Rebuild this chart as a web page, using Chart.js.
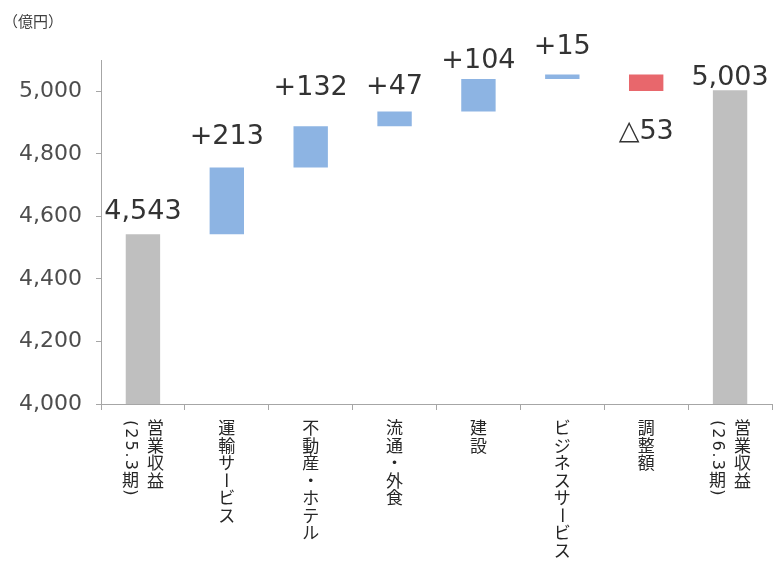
<!DOCTYPE html>
<html>
<head>
<meta charset="utf-8">
<script src="https://cdn.jsdelivr.net/npm/chart.js@4/dist/chart.umd.min.js"></script>
<style>
  html, body { margin: 0; padding: 0; background: #fff; }
  #wrap { position: relative; width: 774px; height: 562px; }
  #unit { position: absolute; left: 3px; top: 10px; font: 15px "Noto Sans CJK JP", sans-serif; color: #404040; }
</style>
</head>
<body>
<div id="wrap">
  <div id="unit">（億円）</div>
  <canvas id="waterfall" width="774" height="562"></canvas>
</div>
<script>
// 営業収益の増減（億円）
var categories = [
    ["営業収益", "(25.3期)"],
    ["運輸サービス"],
    ["不動産・ホテル"],
    ["流通・外食"],
    ["建設"],
    ["ビジネスサービス"],
    ["調整額"],
    ["営業収益", "(26.3期)"]
];
var startTotal = 4543;
var changes = [213, 132, 47, 104, 15, -53];
var endTotal = 5003;
var yTicks = [4000, 4200, 4400, 4600, 4800, 5000];

// label distance from the bar edge, px
var labelGap = [22, 31, 38, 25, 18, 27, 41, 12];

var colors = { total: "#bfbfbf", up: "#8db4e3", down: "#e8676c" };
var numFont = '"DejaVu Sans", sans-serif';
var jpFont = '"Noto Sans CJK JP", sans-serif';

var bars = [[4000, startTotal]];
var barColors = [colors.total];
var labels = [startTotal.toLocaleString("en-US")];
var run = startTotal;
changes.forEach(function (c) {
    bars.push([run, run + c]);
    barColors.push(c >= 0 ? colors.up : colors.down);
    labels.push(c >= 0 ? "+" + c : "△" + Math.abs(c));
    run += c;
});
bars.push([4000, endTotal]);
barColors.push(colors.total);
labels.push(endTotal.toLocaleString("en-US"));

var valueLabels = {
    id: "valueLabels",
    afterDatasetsDraw: function (chart) {
        var ctx = chart.ctx;
        var meta = chart.getDatasetMeta(0);
        ctx.save();
        ctx.font = "27px " + numFont;
        ctx.fillStyle = "#333333";
        ctx.textAlign = "center";
        ctx.textBaseline = "middle";
        meta.data.forEach(function (bar, i) {
            var top = Math.min(bar.y, bar.base);
            var bottom = Math.max(bar.y, bar.base);
            var down = bars[i][1] < bars[i][0];
            var y = down ? bottom + labelGap[i] : top - labelGap[i];
            ctx.fillText(labels[i], bar.x, y);
        });
        ctx.restore();
    }
};

// vertical (tategaki) category labels, columns right to left
var latin = "()0123456789.";
var verticalLabels = {
    id: "verticalLabels",
    afterDraw: function (chart) {
        var ctx = chart.ctx;
        var xs = chart.scales.x;
        var step = 17.5;
        ctx.save();
        ctx.fillStyle = "#262626";
        ctx.textAlign = "center";
        ctx.textBaseline = "middle";
        categories.forEach(function (cols, i) {
            var cx = xs.getPixelForValue(i);
            var n = cols.length;
            cols.forEach(function (col, j) {
                var x = cx + ((n - 1) / 2 - j) * 25;
                var cursor = xs.top + 15;
                Array.from(col).forEach(function (ch) {
                    var isLatin = latin.indexOf(ch) >= 0;
                    ctx.font = isLatin ? "16px " + numFont : "17px " + jpFont;
                    var adv = isLatin ? ctx.measureText(ch).width + 2 : step;
                    var y = cursor + adv / 2;
                    if (isLatin || ch === "ー") {
                        ctx.save();
                        ctx.translate(x, y);
                        ctx.rotate(Math.PI / 2);
                        ctx.fillText(ch, 0, 0);
                        ctx.restore();
                    } else {
                        ctx.fillText(ch, x, y);
                    }
                    cursor += adv;
                });
            });
        });
        ctx.restore();
    }
};

var ctx = document.getElementById("waterfall").getContext("2d");
var chart = new Chart(ctx, {
    type: "bar",
    data: {
        labels: categories.map(function (c) { return c.join(""); }),
        datasets: [{
            data: bars,
            backgroundColor: barColors,
            borderWidth: 0,
            barPercentage: 0.41,
            categoryPercentage: 1
        }]
    },
    options: {
        responsive: false,
        animation: false,
        layout: { padding: { top: 60, right: 2, left: 0, bottom: 0 } },
        plugins: {
            legend: { display: false },
            tooltip: { enabled: false }
        },
        scales: {
            x: {
                grid: { offset: true, drawOnChartArea: false, tickLength: 6, color: "#a6a6a6" },
                border: { color: "#a6a6a6" },
                ticks: { display: false },
                afterFit: function (s) { s.height = 158; }
            },
            y: {
                min: 4000,
                max: 5100,
                afterBuildTicks: function (s) {
                    s.ticks = yTicks.map(function (v) { return { value: v }; });
                },
                grid: { drawOnChartArea: false, tickLength: 5, color: "#a6a6a6" },
                border: { color: "#a6a6a6" },
                ticks: {
                    padding: 14,
                    color: "#4d4d4d",
                    font: { size: 22, family: numFont },
                    callback: function (v) { return v.toLocaleString("en-US"); }
                },
                afterFit: function (s) { s.width = 101; }
            }
        }
    },
    plugins: [valueLabels, verticalLabels]
});
</script>
</body>
</html>
